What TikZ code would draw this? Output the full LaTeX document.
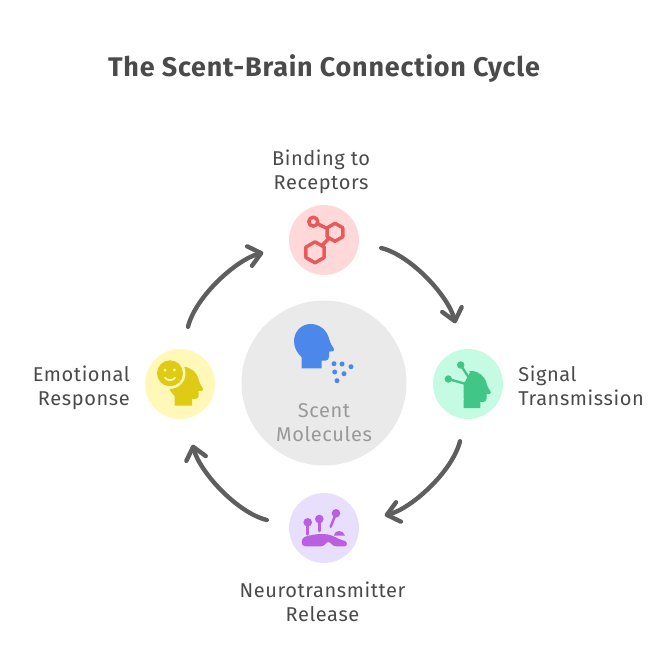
\documentclass[tikz,border=0pt]{standalone}
\usepackage{fontspec}
\setmainfont{Fira Sans}[LetterSpace=3]
\usetikzlibrary{arrows.meta,shapes.geometric}
\definecolor{inkgray}{HTML}{4A4A4A}
\definecolor{arrowgray}{HTML}{5E5E5E}
\definecolor{redbg}{HTML}{FFD9D9}
\definecolor{redicon}{HTML}{E85A5A}
\definecolor{greenbg}{HTML}{C6FBE3}
\definecolor{greenicon}{HTML}{41C687}
\definecolor{purplebg}{HTML}{E8DFFD}
\definecolor{purpleicon}{HTML}{B95FE0}
\definecolor{yellowbg}{HTML}{FFF8B8}
\definecolor{yellowicon}{HTML}{E0CB14}
\definecolor{centerbg}{HTML}{EAEAEA}
\definecolor{blueicon}{HTML}{4C87EA}
\tikzset{
	stepdisc/.style={circle,minimum size=52.5pt,inner sep=0pt,outer sep=0pt},
	hexring/.style={regular polygon,regular polygon sides=6,shape border rotate=30,draw=redicon,line width=2.6pt,inner sep=0pt,outer sep=0pt},
	steplabel/.style={font=\fontsize{15pt}{18pt}\selectfont,text=inkgray,inner sep=0pt},
	cyclearrow/.style={draw=arrowgray,line width=3.3pt,line cap=round,line join=round,-{Straight Barb[length=9pt,width=15pt,round]}},
	pics/headicon/.style={code={
		\fill[#1] (-10,26)--(10,26)--(10,18.3)--(14,18.3) .. controls (16.5,18.3) and (17.3,16.5) .. (17.3,14)--(17.3,9.3)--(21,9) .. controls (22.5,8.5) and (22.8,7) .. (22,6) .. controls (20,3) and (18,0) .. (17.5,-3) .. controls (15.5,-12) and (8,-18.3) .. (-1,-18.3) .. controls (-11,-18.3) and (-17.7,-10) .. (-17.7,-1) .. controls (-17.7,6) and (-14,11) .. (-10,15)--cycle;
	}}
}
\begin{document}
\begin{tikzpicture}[x=0.75pt,y=-0.75pt,line join=round,line cap=round]
	\useasboundingbox (0,0) rectangle (672,672);
	\node[text=inkgray,font=\fontsize{20.2pt}{24pt}\bfseries\selectfont,inner sep=0pt] (title) at (324,69) {The Scent-Brain Connection Cycle};
	% discs
	\node[circle,minimum size=123.75pt,inner sep=0pt,fill=centerbg] (scent) at (324,383) {};
	\foreach \p/\x/\y/\c in {receptors/324/240/redbg,signal/468/384/greenbg,release/324/528/purplebg,emotion/180/384/yellowbg}
		\node[stepdisc,fill=\c] (\p) at (\x,\y) {};
	% arrows of the cycle
	\foreach \p/\q/\s/\e/\g in {receptors/signal/-4/100/14,signal/release/-94/10/104,release/emotion/-184/-80/194,emotion/receptors/-274/-170/284}{
		\pgfmathsetmacro\gg{\g+242}
		\draw[cyclearrow,shorten <=17.25pt,shorten >=20.25pt] (\p.\s) .. controls +(\g:54.3) and +(\gg:54.3) .. (\q.\e);
	}
	% labels
	\node[steplabel,align=center] (lreceptors) at (321,171.5) {Binding to\\Receptors};
	\node[steplabel,align=left,anchor=west] (lsignal) at (518,385.5) {Signal\\Transmission};
	\node[steplabel,align=center] (lrelease) at (322.5,602) {Neurotransmitter\\Release};
	\node[steplabel,align=right,anchor=east] (lemotion) at (130,387.5) {Emotional\\Response};
	\node[steplabel,align=center,text=black!40] (lscent) at (324,422.5) {Scent\\Molecules};
	% icon: scent
	\pic at (311.7,342.3) {headicon=blueicon};
	\foreach \x/\y in {334/363.7,342/364,351/366.7,334.7/372,344/373.7,337/380.7}
		\fill[blueicon] (\x,\y) circle (2.5);
	% icon: receptors
	\node[hexring,minimum size=15.75pt] (hexbig) at (315,252.3) {};
	\node[hexring,minimum size=13.5pt] (hexmid) at (335,232.3) {};
	\node[circle,draw=redicon,line width=2.6pt,minimum size=6.75pt,inner sep=0pt,outer sep=0pt] (hexsmall) at (313.3,221.7) {};
	\draw[redicon,line width=2.6pt] (hexsmall)--(hexmid) (hexbig)--(hexmid);
	% icon: signal
	\pic[scale=.84] at (472,386.4) {headicon=greenicon};
	\fill[greenbg] (452,360)--(470,372)--(463.5,384)--(463.5,400)--(445,395)--cycle;
	\draw[greenicon,line width=1.8pt] (460.7,365)--(471,381) (448.3,379)--(466,384);
	\foreach \x/\y in {460.7/365,448.3/379}
		\fill[greenicon] (\x,\y) circle (3.7);
	% icon: release
	\fill[purpleicon] (301.7,541.5) .. controls (302,537) and (306,536) .. (312,535) .. controls (320,533.5) and (328,533.5) .. (333,536) .. controls (337,538) and (341,540) .. (345,541) .. controls (347.5,542) and (347.5,546) .. (345,546.3)--(336,546.3) .. controls (332,546.3) and (331,542) .. (328,542) .. controls (326,542) and (325,546.3) .. (321,546.3)--(305,546.3) .. controls (302.5,546.3) and (301.5,544) .. (301.7,541.5)--cycle;
	\fill[purpleicon] (334,535.5) .. controls (335,532) and (337,531) .. (339,531) .. controls (342,531) and (344,532.5) .. (345,535.5)--cycle;
	\foreach \x/\y/\u/\v in {307.7/522.3/307.7/534.3,319.3/519/319.3/531,336/513.3/330.7/526.7}{
		\fill[purpleicon] (\x,\y) circle (4.3);
		\draw[purpleicon,line width=1.9pt] (\x,\y)--(\u,\v);
	}
	% icon: emotion
	\pic[scale=.88] at (183.4,382.8) {headicon=yellowicon};
	\fill[yellowbg] (170,373.3) circle (15.5);
	\fill[yellowicon] (170,373.3) circle (13);
	\foreach \x in {165,174.3}
		\fill[yellowbg] (\x,370) circle (1.5);
	\draw[yellowbg,line width=1.3pt] (165,377.7) .. controls (167,381) and (173,381) .. (175,377.7);
\end{tikzpicture}
\end{document}
